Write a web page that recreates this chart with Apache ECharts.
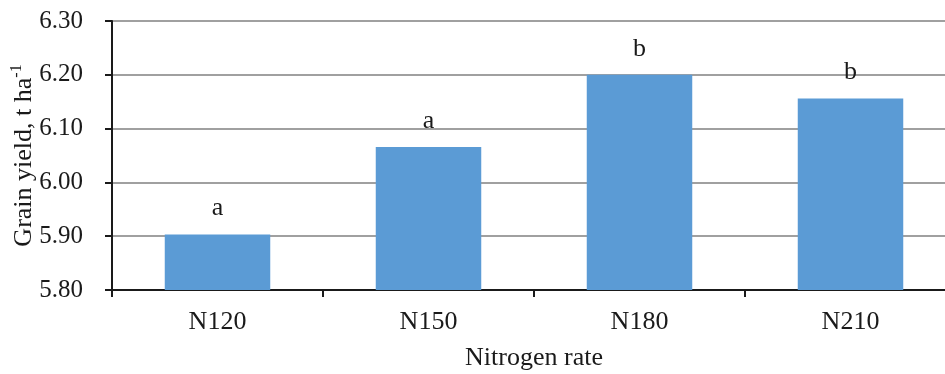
<!DOCTYPE html>
<html>
<head>
<meta charset="utf-8">
<script src="https://cdn.jsdelivr.net/npm/echarts@6/dist/echarts.min.js"></script>
<style>html,body{margin:0;padding:0;background:#fff;overflow:hidden;}#c{width:945px;height:374px;}</style>
</head>
<body>
<div id="c"></div>
<script>
const categories = ['N120', 'N150', 'N180', 'N210'];
const grainYield = [5.903, 6.066, 6.200, 6.156];
const letters = ['a', 'a', 'b', 'b'];
const yTicks = [5.80, 5.90, 6.00, 6.10, 6.20, 6.30];

const FONT = '"Liberation Serif", "Times New Roman", serif';
const TXT = '#1a1a1a';
const chart = echarts.init(document.getElementById('c'), null, {renderer: 'canvas'});
chart.setOption({
  animation: false,
  backgroundColor: '#fff',
  grid: {left: 112, top: 21, width: 844, height: 269, containLabel: false, outerBoundsMode: 'none'},
  xAxis: {
    type: 'category',
    data: categories,
    name: 'Nitrogen rate',
    nameLocation: 'middle',
    nameGap: 55,
    nameMoveOverlap: false,
    nameTextStyle: {fontFamily: FONT, fontSize: 26, color: TXT},
    axisLine: {lineStyle: {color: '#1a1a1a', width: 2}},
    axisTick: {show: true, length: 7, lineStyle: {color: '#1a1a1a', width: 2}},
    axisLabel: {fontFamily: FONT, fontSize: 26, color: TXT, margin: 19}
  },
  yAxis: {
    type: 'value',
    min: yTicks[0],
    max: yTicks[yTicks.length - 1],
    interval: 0.1,
    name: '{m|Grain yield, t ha}{s|-1}',
    nameLocation: 'middle',
    nameRotate: 90,
    nameGap: 75,
    nameMoveOverlap: false,
    nameTextStyle: {
      fontFamily: FONT, fontSize: 26, color: TXT,
      rich: {
        m: {fontFamily: FONT, fontSize: 26, color: TXT, lineHeight: 28, verticalAlign: 'bottom'},
        s: {fontFamily: FONT, fontSize: 16, color: TXT, lineHeight: 28, verticalAlign: 'top'}
      }
    },
    axisLine: {show: true, lineStyle: {color: '#1a1a1a', width: 2}},
    axisTick: {show: true, length: 7, lineStyle: {color: '#1a1a1a', width: 2}},
    axisLabel: {
      fontFamily: FONT, fontSize: 25, color: TXT, margin: 29,
      formatter: v => v.toFixed(2)
    },
    splitLine: {show: true, lineStyle: {color: '#a0a0a0', width: 2}}
  },
  series: [{
    type: 'bar',
    data: grainYield,
    barCategoryGap: '50%',
    itemStyle: {color: '#5b9bd5'},
    label: {
      show: true,
      position: 'top',
      distance: 13,
      fontFamily: FONT,
      fontSize: 26,
      color: TXT,
      formatter: p => letters[p.dataIndex]
    }
  }]
});
</script>
</body>
</html>
